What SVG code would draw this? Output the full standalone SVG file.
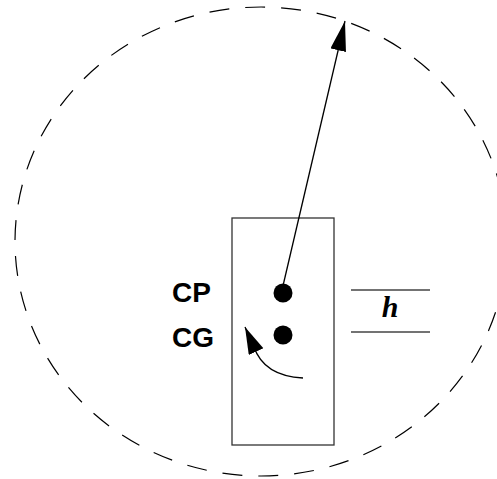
<svg xmlns="http://www.w3.org/2000/svg" width="497" height="479" viewBox="0 0 497 479">
<style>
.lbl{font-family:"Liberation Sans",Arial,sans-serif;font-weight:bold;font-size:28px;fill:#000}
.h{font-family:"Liberation Serif","Times New Roman",serif;font-weight:bold;font-style:italic;font-size:30px;fill:#000}
.ln{stroke:#000;stroke-width:1.3;fill:none}
</style>
<defs>
<marker id="ah" markerUnits="userSpaceOnUse" markerWidth="32" markerHeight="18" refX="30" refY="8" orient="auto">
<path d="M0,0 L30,8 L0,16 Z" fill="#000"/>
</marker>
<marker id="ah2" markerUnits="userSpaceOnUse" markerWidth="30" markerHeight="18" refX="27" refY="8" orient="auto">
<path d="M0,0 L27,8 L0,16 Z" fill="#000"/>
</marker>
</defs>
<ellipse cx="261" cy="241.5" rx="246" ry="234.5" fill="none" stroke="#000" stroke-width="1.2" stroke-dasharray="20,16"/>
<g id="body">
<rect x="232" y="218" width="102" height="227" fill="none" stroke="#333" stroke-width="1.3"/>
</g>
<g id="cp">
<circle cx="283" cy="293" r="9.5" fill="#000"/>
<text class="lbl" x="172" y="301.5">CP</text>
</g>
<g id="cg">
<circle cx="283" cy="335" r="9.5" fill="#000"/>
<text class="lbl" x="172" y="347">CG</text>
</g>
<g id="h">
<line x1="351" y1="290" x2="430" y2="290" stroke="#444" stroke-width="1.3"/>
<line x1="351" y1="332" x2="430" y2="332" stroke="#444" stroke-width="1.3"/>
<text class="h" x="390" y="317" text-anchor="middle">h</text>
</g>
<g id="connectors">
<line class="ln" x1="282" y1="290" x2="345" y2="21" marker-end="url(#ah)"/>
<path class="ln" d="M303,378 Q264,376 254,347 L245,327" marker-end="url(#ah2)"/>
</g>
</svg>
